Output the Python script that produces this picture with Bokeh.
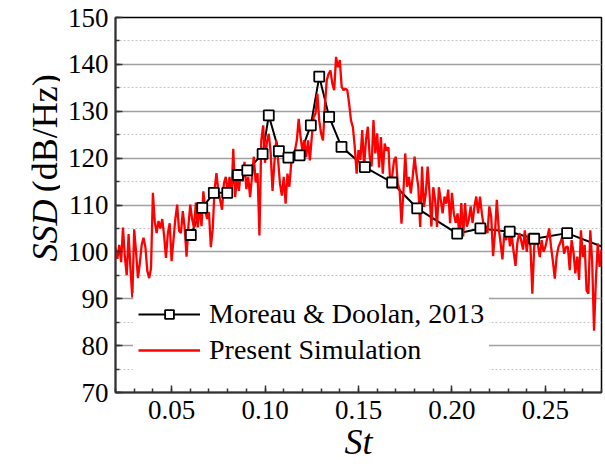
import math
import numpy as np
from bokeh.plotting import figure
from bokeh.layouts import row
from bokeh.models import (Range1d, SingleIntervalTicker, PrintfTickFormatter,
                          Legend, LegendItem)
from bokeh.core.properties import value
from bokeh.embed import file_html
from bokeh.resources import INLINE

# Moreau & Doolan (2013) measured spectrum
st_exp = [0.0603, 0.0664, 0.0726, 0.0798, 0.0855, 0.0905, 0.0987, 0.1020,
          0.1074, 0.1125, 0.1185, 0.1245, 0.1290, 0.1343, 0.1409, 0.1534,
          0.1680, 0.1814, 0.2028, 0.2152, 0.2309, 0.2440, 0.2616, 0.2920]
ssd_exp = [103.6, 109.4, 112.6, 112.6, 116.4, 117.4, 120.9, 129.1,
           121.5, 120.1, 120.6, 127.0, 137.4, 128.8, 122.4, 118.1,
           114.8, 109.3, 103.9, 105.0, 104.3, 102.8, 104.0, 99.3]

# Present simulation spectrum, St = 0.020 ... 0.280 in steps of 0.001
st_sim = np.round(0.020 + 0.001 * np.arange(261), 3)
ssd_sim = [
    100.9, 98.5, 101.5, 97.8, 105.2, 99.0, 95.0, 103.8, 96.5, 90.3,      # 0.020
    104.8, 100.0, 94.4, 97.5, 101.5, 103.0, 101.0, 96.0, 94.4, 96.5,     # 0.030
    112.6, 106.5, 104.0, 106.6, 105.0, 107.0, 103.5, 98.7, 104.0, 106.1, # 0.040
    98.0, 102.5, 107.0, 110.1, 104.5, 104.0, 108.7, 105.2, 99.0, 105.5,  # 0.050
    110.1, 107.0, 105.1, 110.5, 105.2, 109.9, 105.5, 112.9, 109.0, 107.0, # 0.060
    108.5, 101.0, 104.8, 113.3, 116.8, 113.0, 111.0, 109.0, 114.6, 116.0, # 0.070
    112.5, 116.0, 111.7, 122.0, 111.7, 116.0, 113.0, 116.8, 115.0, 119.2, # 0.080
    113.4, 116.0, 111.7, 116.0, 120.3, 114.8, 116.8, 103.5, 123.8, 127.0, # 0.090
    119.0, 123.5, 125.2, 121.2, 113.0, 119.0, 123.8, 119.5, 114.5, 112.0, # 0.100
    116.0, 110.3, 116.7, 113.9, 118.8, 121.0, 121.6, 123.8, 128.4, 124.5, # 0.110
    121.6, 123.8, 120.2, 123.8, 119.5, 124.5, 128.8, 129.5, 133.7, 128.0, # 0.120
    125.2, 123.8, 130.9, 136.6, 138.0, 138.7, 135.9, 134.5, 141.6, 139.4, # 0.130
    140.9, 135.2, 134.5, 134.8, 134.5, 131.6, 128.0, 126.6, 122.4, 116.7, # 0.140
    121.7, 119.6, 126.0, 118.2, 123.9, 126.7, 120.3, 118.2, 128.1, 121.0, # 0.150
    125.3, 118.0, 124.5, 116.7, 123.1, 121.6, 122.3, 114.5, 116.0, 119.5, # 0.160
    120.3, 114.5, 113.2, 106.0, 112.5, 121.0, 113.9, 116.0, 112.5, 116.0, # 0.170
    120.3, 116.7, 113.9, 105.3, 118.2, 109.6, 112.5, 118.2, 112.5, 105.4, # 0.180
    113.8, 111.1, 105.3, 113.8, 111.1, 108.2, 111.8, 110.3, 113.3, 106.1, # 0.190
    112.6, 108.2, 106.2, 108.2, 103.2, 110.4, 103.3, 110.4, 105.4, 106.8, # 0.200
    109.7, 106.2, 109.6, 111.8, 108.2, 111.8, 108.2, 105.4, 105.5, 104.0, # 0.210
    109.7, 107.5, 99.1, 104.0, 111.1, 105.0, 102.0, 98.4, 104.0, 102.5,  # 0.220
    105.5, 101.2, 103.5, 100.0, 97.0, 102.0, 104.0, 102.5, 100.5, 104.6, # 0.230
    100.0, 103.9, 101.1, 91.1, 101.1, 103.2, 101.5, 98.9, 102.5, 100.0,  # 0.240
    101.1, 103.0, 105.0, 101.1, 98.0, 94.3, 99.0, 101.1, 102.0, 103.2,   # 0.250
    99.6, 101.0, 101.1, 96.1, 102.5, 100.0, 95.4, 99.0, 94.0, 104.6,     # 0.260
    98.9, 101.5, 91.8, 91.1, 104.6, 98.0, 83.2, 94.0, 101.8, 96.8,       # 0.270
    100.5,                                                               # 0.280
]

SERIF = "Liberation Serif"
LEFT_W = 60  # strip that carries the vertical axis title

p = figure(width=605 - LEFT_W, height=470, output_backend="svg", toolbar_location=None,
           x_range=Range1d(0.02, 0.28), y_range=Range1d(70, 150),
           min_border_left=115 - LEFT_W, min_border_right=4, min_border_top=17,
           min_border_bottom=78)
p.background_fill_color = "white"
p.border_fill_color = "white"
p.outline_line_color = "black"
p.outline_line_width = 1.5

# axes
p.xaxis.ticker = SingleIntervalTicker(interval=0.05, num_minor_ticks=5)
p.xaxis.formatter = PrintfTickFormatter(format="%.2f")
p.yaxis.ticker = SingleIntervalTicker(interval=10, num_minor_ticks=2)
for ax in (p.xaxis[0], p.yaxis[0]):
    ax.axis_line_color = "#333333"
    ax.axis_line_width = 2
    ax.major_tick_in = 7
    ax.major_tick_out = 0
    ax.minor_tick_in = 4
    ax.minor_tick_out = 0
    ax.major_tick_line_color = "#333333"
    ax.minor_tick_line_color = "#333333"
    ax.major_tick_line_width = 1.5
    ax.minor_tick_line_width = 1.5
    ax.major_label_text_font = SERIF
    ax.major_label_text_font_size = "27px"
    ax.major_label_text_color = "black"
p.xaxis.major_label_standoff = 8
p.yaxis.major_label_standoff = 7
p.xaxis.axis_label = "St"
p.xaxis.axis_label_text_font = SERIF
p.xaxis.axis_label_text_font_style = "italic"
p.xaxis.axis_label_text_font_size = "36px"
p.xaxis.axis_label_text_color = "black"
p.xaxis.axis_label_standoff = 0

# grid: solid at 10 dB, dotted at 5 dB
p.xgrid.visible = False
p.ygrid.grid_line_color = "#a0a0a0"
p.ygrid.grid_line_width = 1.5
p.ygrid.minor_grid_line_color = "#c4c4c4"
p.ygrid.minor_grid_line_width = 1
p.ygrid.minor_grid_line_dash = "2 2"

# data
exp_line = p.line(st_exp, ssd_exp, line_color="black", line_width=2)
sim_line = p.line(st_sim, ssd_sim, line_color="#ff0000", line_width=2.3)
exp_marks = p.scatter(st_exp, ssd_exp, marker="square", size=10,
                      fill_color="white", line_color="black", line_width=1.8)

legend = Legend(items=[
    LegendItem(label="Moreau & Doolan, 2013", renderers=[exp_line, exp_marks]),
    LegendItem(label="Present Simulation", renderers=[sim_line]),
], location=(18, 21))
legend.label_text_font = SERIF
legend.label_text_font_size = "28px"
legend.label_text_color = "black"
legend.glyph_width = 62
legend.glyph_height = 22
legend.label_standoff = 9
legend.padding = 5
legend.spacing = 4
legend.margin = 0
legend.border_line_alpha = 0
legend.background_fill_color = "white"
legend.background_fill_alpha = 1
p.add_layout(legend)

# vertical axis title: italic symbol followed by upright unit
title_fig = figure(width=LEFT_W, height=470, output_backend="svg", toolbar_location=None,
                   x_range=Range1d(0, LEFT_W), y_range=Range1d(0, 470),
                   x_axis_location=None, y_axis_location=None,
                   min_border=0, outline_line_color=None)
title_fig.grid.visible = False
title_fig.background_fill_color = "white"
title_fig.border_fill_color = "white"
title_fig.text(x=[44], y=[242], text=["SSD"], angle=math.pi / 2,
               text_font=value(SERIF), text_font_style="italic", text_font_size="36px",
               text_align="right", text_baseline="alphabetic", text_color="black")
title_fig.text(x=[44], y=[251], text=["(dB/Hz)"], angle=math.pi / 2,
               text_font=value(SERIF), text_font_size="36px",
               text_align="left", text_baseline="alphabetic", text_color="black")

layout = row(title_fig, p, spacing=0)
open("out.html", "w").write(file_html(layout, INLINE))
